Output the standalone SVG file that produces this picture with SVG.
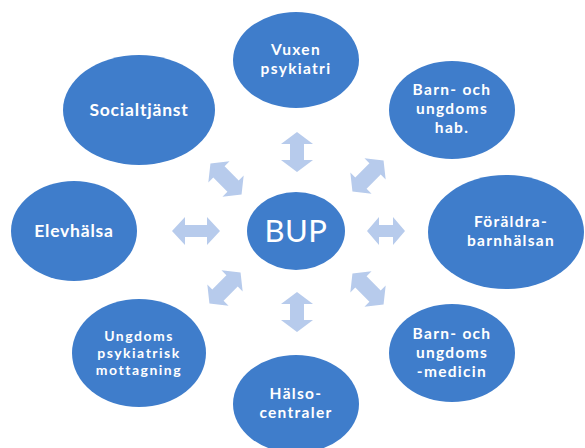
<svg xmlns="http://www.w3.org/2000/svg" width="585" height="448" viewBox="0 0 585 448">
<defs>
<path id="arrV" d="M0,-20 L16,-8 L7,-8 L7,8 L16,8 L0,20 L-16,8 L-7,8 L-7,-8 L-16,-8 Z"/>
<path id="arrD" d="M-22,0 L-10,-15 L-10,-8 L10,-8 L10,-15 L22,0 L10,15 L10,8 L-10,8 L-10,15 Z"/>
</defs>
<style>
.n{fill:#3F7DCB}
.a{fill:#B7CBEC}
.t{fill:#FFFFFF;font-family:Lato,"Open Sans",sans-serif;font-weight:700;font-size:15.5px;text-anchor:middle;letter-spacing:1.3px}
.l{font-size:17.5px;letter-spacing:0.8px}
.s{font-size:14px;letter-spacing:1.5px}
.b{font-weight:400;font-size:31px;letter-spacing:0.5px}
</style>
<rect width="585" height="448" fill="#FFFFFF"/>
<g id="connectors">
<use href="#arrV" class="a" transform="translate(297,152)"/>
<use href="#arrV" class="a" transform="translate(297,312)"/>
<path class="a" d="M172,231 L185,217 L185,225 L207,225 L207,217 L220,231 L207,245 L207,237 L185,237 L185,245 Z"/>
<path class="a" d="M367,231 L379,217 L379,225 L393,225 L393,217 L405,231 L393,245 L393,237 L379,237 L379,245 Z"/>
<use href="#arrD" class="a" transform="translate(226,179) rotate(45)"/>
<use href="#arrD" class="a" transform="translate(368,176) rotate(-45)"/>
<use href="#arrD" class="a" transform="translate(225,288) rotate(-45)"/>
<use href="#arrD" class="a" transform="translate(368,289) rotate(45)"/>
</g>
<g id="bup">
<ellipse class="n" cx="296" cy="231" rx="49" ry="39"/>
<text class="t b" x="296" y="242">BUP</text>
</g>
<g id="vuxen">
<ellipse class="n" cx="296" cy="60" rx="63" ry="48"/>
<text class="t" x="296" y="55">Vuxen</text>
<text class="t" x="296" y="74">psykiatri</text>
</g>
<g id="socialtjanst">
<ellipse class="n" cx="139" cy="110" rx="76" ry="55"/>
<text class="t l" x="139" y="116">Socialtjänst</text>
</g>
<g id="barn-hab">
<ellipse class="n" cx="452" cy="110" rx="63" ry="49"/>
<text class="t" x="452" y="95">Barn- och</text>
<text class="t" x="452" y="114">ungdoms</text>
<text class="t" x="452" y="133">hab.</text>
</g>
<g id="foraldra">
<ellipse class="n" cx="506" cy="232" rx="78" ry="57"/>
<text class="t" x="511" y="227">Föräldra-</text>
<text class="t" x="511" y="246">barnhälsan</text>
</g>
<g id="elevhalsa">
<ellipse class="n" cx="74" cy="231" rx="63" ry="50"/>
<text class="t l" x="74" y="237">Elevhälsa</text>
</g>
<g id="ungdoms-psyk">
<ellipse class="n" cx="139" cy="353" rx="67" ry="54"/>
<text class="t s" x="139" y="341">Ungdoms</text>
<text class="t s" x="139" y="358">psykiatrisk</text>
<text class="t s" x="139" y="375">mottagning</text>
</g>
<g id="halsocentraler">
<ellipse class="n" cx="296" cy="404" rx="63" ry="49"/>
<text class="t" x="296" y="399">Hälso-</text>
<text class="t" x="296" y="418">centraler</text>
</g>
<g id="barn-medicin">
<ellipse class="n" cx="452" cy="353" rx="63" ry="49"/>
<text class="t" x="452" y="339">Barn- och</text>
<text class="t" x="452" y="358">ungdoms</text>
<text class="t" x="452" y="377">-medicin</text>
</g>
</svg>
